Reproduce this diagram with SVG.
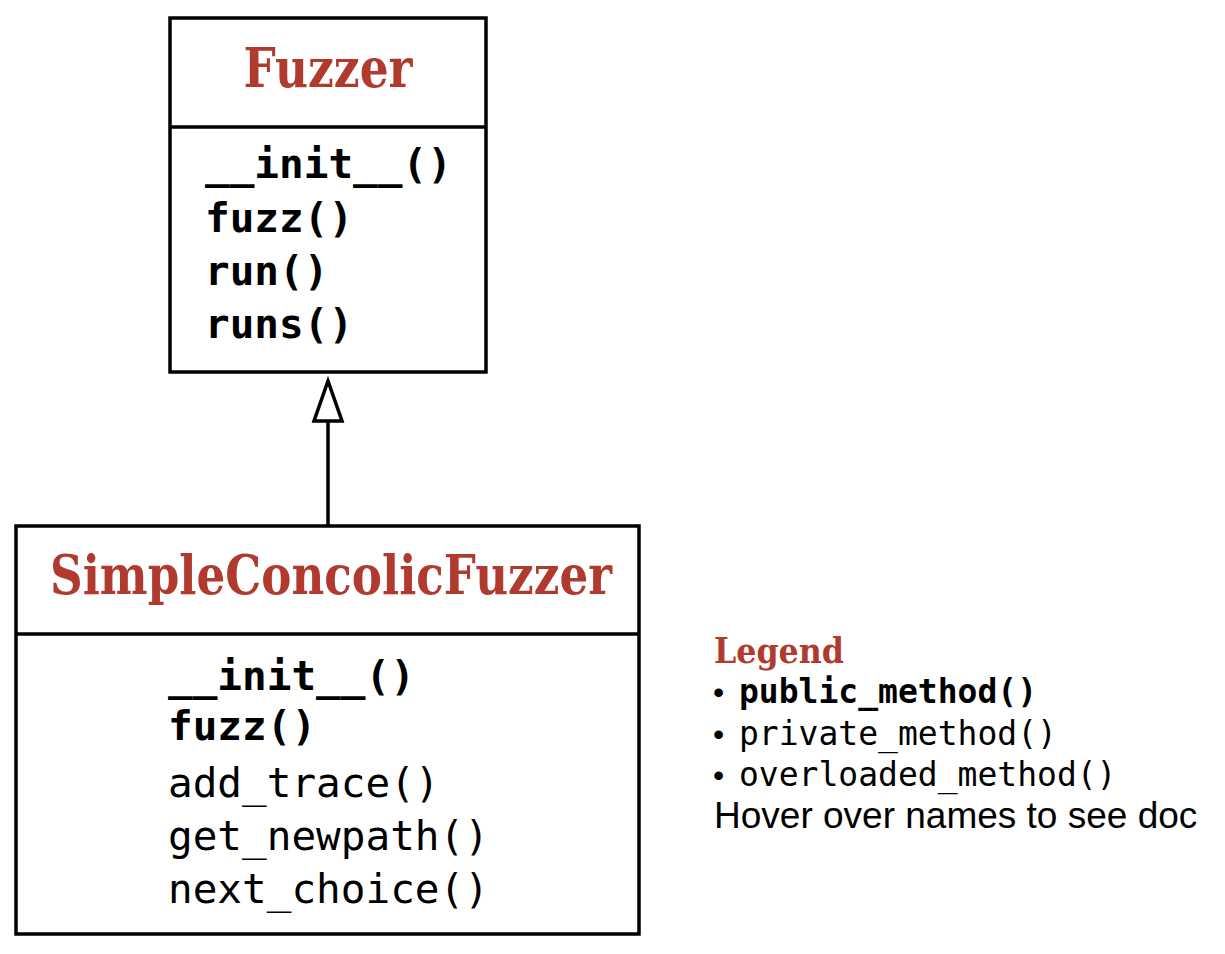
<svg xmlns="http://www.w3.org/2000/svg" width="1225" height="954" viewBox="0 0 1225 954">
  <defs>
    <style>
      .box { fill: #ffffff; stroke: #000000; stroke-width: 3.5; }
      .sep { stroke: #000000; stroke-width: 3.5; }
      .title { font-family: "DejaVu Serif", "Liberation Serif", serif; font-weight: bold; fill: #b03a2e; }
      .pub { font-family: "DejaVu Sans Mono", "Liberation Mono", monospace; font-weight: bold; fill: #000000; }
      .priv { font-family: "DejaVu Sans Mono", "Liberation Mono", monospace; font-weight: normal; fill: #000000; }
      .sans { font-family: "Liberation Sans", Arial, sans-serif; fill: #000000; }
      .edge { fill: none; stroke: #000000; stroke-width: 3.5; }
      .head { fill: #ffffff; stroke: #000000; stroke-width: 3.5; stroke-linejoin: miter; }
    </style>
  </defs>

  <rect width="1225" height="954" fill="#ffffff"/>

  <!-- class Fuzzer -->
  <g id="Fuzzer">
    <rect class="box" x="170" y="18" width="316" height="354"/>
    <line class="sep" x1="170" y1="127" x2="486" y2="127"/>
    <text class="title" x="328" y="87" font-size="54" text-anchor="middle" textLength="169" lengthAdjust="spacingAndGlyphs">Fuzzer</text>
    <text class="pub" x="205" y="178" font-size="41">__init__()</text>
    <text class="pub" x="205" y="232" font-size="41">fuzz()</text>
    <text class="pub" x="205" y="285" font-size="41">run()</text>
    <text class="pub" x="205" y="338" font-size="41">runs()</text>
  </g>

  <!-- class SimpleConcolicFuzzer -->
  <g id="SimpleConcolicFuzzer">
    <rect class="box" x="16" y="526" width="623" height="408"/>
    <line class="sep" x1="16" y1="634" x2="639" y2="634"/>
    <text class="title" x="331" y="594" font-size="54" text-anchor="middle" textLength="562" lengthAdjust="spacingAndGlyphs">SimpleConcolicFuzzer</text>
    <text class="pub" x="168" y="690" font-size="41">__init__()</text>
    <text class="pub" x="168" y="740" font-size="41">fuzz()</text>
    <text class="priv" x="168" y="797" font-size="41">add_trace()</text>
    <text class="priv" x="168" y="850" font-size="41">get_newpath()</text>
    <text class="priv" x="168" y="903" font-size="41">next_choice()</text>
  </g>

  <!-- inheritance edge: SimpleConcolicFuzzer -> Fuzzer -->
  <g id="edges">
    <path class="edge" d="M328 526 L328 421"/>
    <polygon class="head" points="328,381 342,421 314,421"/>
  </g>

  <!-- legend -->
  <g id="Legend">
    <text class="title" x="714" y="663" font-size="36" textLength="130" lengthAdjust="spacingAndGlyphs">Legend</text>
    <text class="sans" x="713" y="703" font-size="32">•</text>
    <text class="pub" x="739" y="703" font-size="33">public_method()</text>
    <text class="sans" x="713" y="745" font-size="32">•</text>
    <text class="priv" x="739" y="745" font-size="33">private_method()</text>
    <text class="sans" x="713" y="786" font-size="32">•</text>
    <text class="priv" x="739" y="786" font-size="33">overloaded_method()</text>
    <text class="sans" x="714" y="828" font-size="37">Hover over names to see doc</text>
  </g>
</svg>
